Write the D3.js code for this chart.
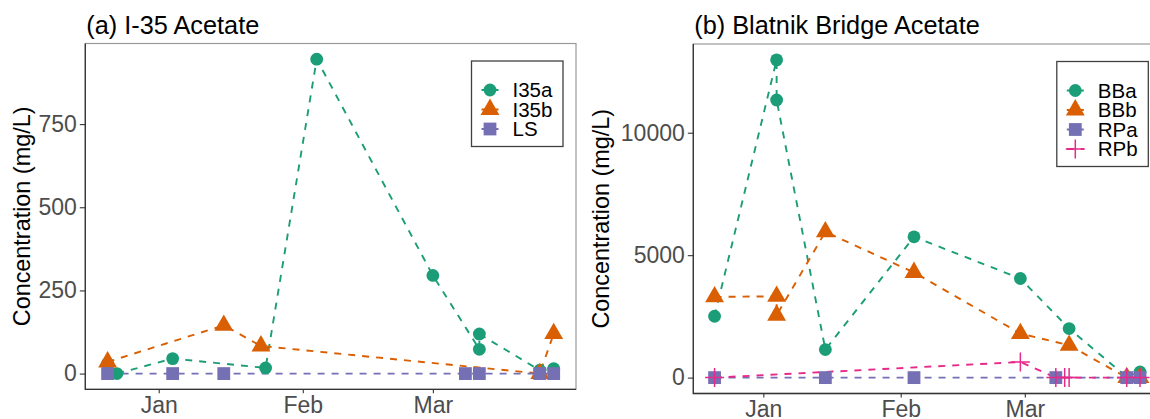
<!DOCTYPE html>
<html>
<head>
<meta charset="utf-8">
<script src="https://cdn.jsdelivr.net/npm/d3@7"></script>
<style>
  html, body { margin: 0; padding: 0; background: #fff; overflow: hidden; }
  svg { display: block; font-family: "Liberation Sans", Arial, Helvetica, sans-serif; }
</style>
</head>
<body>
<svg id="chart" width="1150" height="419"></svg>
<script>
// ---- Data: sampling dates and acetate concentrations (mg/L) ----
const i35aDates  = ["2022-12-21","2022-12-23","2023-01-04","2023-01-24","2023-02-04","2023-03-01","2023-03-11","2023-03-11","2023-03-24","2023-03-27"];
const i35aValues = [30, 0, 45, 17, 945, 295, 73, 119, 10, 15];

const i35bDates  = ["2022-12-21","2023-01-15","2023-01-23","2023-03-24","2023-03-27"];
const i35bValues = [35, 145, 83, 0, 120];

const lsDates    = ["2022-12-21","2023-01-04","2023-01-15","2023-03-08","2023-03-11","2023-03-24","2023-03-27"];
const lsValues   = [0, 0, 0, 0, 0, 0, 0];

const bbaDates   = ["2022-12-21","2023-01-04","2023-01-04","2023-01-15","2023-02-04","2023-02-28","2023-03-11","2023-03-24","2023-03-27"];
const bbaValues  = [2506, 12975, 11337, 1145, 5749, 4047, 2003, 30, 230];

const bbbDates   = ["2022-12-21","2023-01-04","2023-01-04","2023-01-15","2023-02-04","2023-02-28","2023-03-11","2023-03-24","2023-03-27"];
const bbbValues  = [3296, 3320, 2547, 5953, 4293, 1800, 1320, 0, 0];

const rpaDates   = ["2022-12-21","2023-01-15","2023-02-04","2023-03-08","2023-03-24","2023-03-27"];
const rpaValues  = [0, 0, 0, 0, 0, 0];

const rpbDates   = ["2022-12-21","2023-02-28","2023-03-08","2023-03-10","2023-03-11","2023-03-24","2023-03-27"];
const rpbValues  = [0, 638, 0, 0, 0, 0, 0];

const panelATicks = [0, 250, 500, 750];
const panelBTicks = [0, 5000, 10000];
const monthTicks  = ["2023-01-01", "2023-02-01", "2023-03-01"];

const palette = { green: "#1B9E77", orange: "#D95F02", purple: "#7570B3", pink: "#E7298A" };

// ---- Helpers ----
const parse = d3.utcParse("%Y-%m-%d");
function makeSeries(name, dates, values, color, shape) {
  return { name, color, shape, points: dates.map((d, i) => ({ date: parse(d), value: values[i] })) };
}

const panelA = [
  makeSeries("I35a", i35aDates, i35aValues, palette.green,  "circle"),
  makeSeries("I35b", i35bDates, i35bValues, palette.orange, "triangle"),
  makeSeries("LS",   lsDates,   lsValues,   palette.purple, "square")
];
const panelB = [
  makeSeries("BBa", bbaDates, bbaValues, palette.green,  "circle"),
  makeSeries("BBb", bbbDates, bbbValues, palette.orange, "triangle"),
  makeSeries("RPa", rpaDates, rpaValues, palette.purple, "square"),
  makeSeries("RPb", rpbDates, rpbValues, palette.pink,   "plus")
];

// ggplot-style 5% expansion of a continuous range
function expand(lo, hi) { const d = (hi - lo) * 0.05; return [lo - d, hi + d]; }

const allDates = panelA.concat(panelB).flatMap(s => s.points.map(p => +p.date));
const dateDomain = expand(d3.min(allDates), d3.max(allDates)).map(t => new Date(t));

const DASH = "7,7";
const LINE_W = 1.9;

function drawMarker(g, shape, cx, cy, color) {
  if (shape === "circle") {
    g.append("circle").attr("cx", cx).attr("cy", cy).attr("r", 6.4).attr("fill", color);
  } else if (shape === "triangle") {
    const R = 7.0;
    const pts = [[cx, cy - 1.5551 * R], [cx + 1.3468 * R, cy + 0.7776 * R], [cx - 1.3468 * R, cy + 0.7776 * R]];
    g.append("path").attr("d", "M" + pts.map(p => p.join(",")).join("L") + "Z").attr("fill", color);
  } else if (shape === "square") {
    const h = 6.4;
    g.append("rect").attr("x", cx - h).attr("y", cy - h).attr("width", 2 * h).attr("height", 2 * h).attr("fill", color);
  } else if (shape === "plus") {
    const h = 9.5;
    g.append("path").attr("d", `M${cx - h},${cy}H${cx + h}M${cx},${cy - h}V${cy + h}`)
      .attr("stroke", color).attr("stroke-width", 1.5).attr("fill", "none");
  }
}

const svg = d3.select("#chart");

function drawPanel(cfg) {
  const { left, right, top, bottom, series, yTicks, title, yTitleX } = cfg;
  const g = svg.append("g");

  const maxVal = d3.max(series.flatMap(s => s.points.map(p => p.value)));
  const minVal = d3.min(series.flatMap(s => s.points.map(p => p.value)));
  const x = d3.scaleUtc().domain(dateDomain).range([left, right]);
  const y = d3.scaleLinear().domain(expand(minVal, maxVal)).range([bottom, top]);

  // panel frame: light top/right, dark axis lines
  g.append("rect").attr("x", left).attr("y", top).attr("width", right - left).attr("height", bottom - top)
    .attr("fill", "none").attr("stroke", "#9a9a9a").attr("stroke-width", 1.2);
  g.append("path").attr("d", `M${left},${top}V${bottom}H${right}`)
    .attr("fill", "none").attr("stroke", "#333").attr("stroke-width", 1.3);

  // y axis
  const yAxis = g.append("g").attr("transform", `translate(${left},0)`)
    .call(d3.axisLeft(y).tickValues(yTicks).tickSize(5.5).tickPadding(3).tickFormat(d3.format("d")));
  yAxis.select(".domain").remove();
  yAxis.selectAll("line").attr("stroke", "#333").attr("stroke-width", 1.1);
  yAxis.selectAll("text").attr("fill", "#4D4D4D").style("font-size", "23px")
    .style("font-family", '"Liberation Sans", Arial, sans-serif');

  // x axis
  const xAxis = g.append("g").attr("transform", `translate(0,${bottom})`)
    .call(d3.axisBottom(x).tickValues(monthTicks.map(parse)).tickSize(4).tickPadding(3).tickFormat(d3.utcFormat("%b")));
  xAxis.select(".domain").remove();
  xAxis.selectAll("line").attr("stroke", "#333").attr("stroke-width", 1.1);
  xAxis.selectAll("text").attr("fill", "#4D4D4D").style("font-size", "23px")
    .style("font-family", '"Liberation Sans", Arial, sans-serif');

  // titles
  g.append("text").attr("x", left + 1).attr("y", 33.5).attr("fill", "#000")
    .style("font-size", "25.3px").text(title);
  g.append("text").attr("transform", `translate(${yTitleX},${(top + bottom) / 2}) rotate(-90)`)
    .attr("text-anchor", "middle").attr("fill", "#000").style("font-size", "23.4px")
    .text("Concentration (mg/L)");

  // data: dashed lines, then markers
  const clip = "clip-" + cfg.id;
  svg.append("clipPath").attr("id", clip).append("rect")
    .attr("x", left).attr("y", top).attr("width", right - left).attr("height", bottom - top);
  const plot = g.append("g").attr("clip-path", `url(#${clip})`);
  const line = d3.line().x(d => x(d.date)).y(d => y(d.value));
  series.forEach(s => {
    plot.append("path").datum(s.points).attr("d", line).attr("fill", "none")
      .attr("stroke", s.color).attr("stroke-width", LINE_W).attr("stroke-dasharray", DASH);
  });
  series.forEach(s => {
    s.points.forEach(p => drawMarker(plot, s.shape, x(p.date), y(p.value), s.color));
  });

  // legend
  const boxW = 91.5, rowH = 19.5;
  const boxL = right - 13 - boxW, boxT = top + 17.5;
  const firstRow = boxT + 29;
  const boxH = 29 + rowH * (series.length - 1) + 17.5;
  const lg = g.append("g");
  lg.append("rect").attr("x", boxL).attr("y", boxT).attr("width", boxW).attr("height", boxH)
    .attr("fill", "#fff").attr("stroke", "#404040").attr("stroke-width", 1.3);
  series.forEach((s, i) => {
    const cy = firstRow + i * rowH, cx = boxL + 18.5;
    lg.append("path").attr("d", `M${cx - 8.5},${cy}H${cx + 8.5}`).attr("stroke", s.color)
      .attr("stroke-width", LINE_W).attr("stroke-dasharray", DASH);
    drawMarker(lg, s.shape, cx, cy, s.color);
    lg.append("text").attr("x", boxL + 41).attr("y", cy).attr("dy", "0.36em").attr("fill", "#000")
      .style("font-size", "20.5px").text(s.name);
  });
}

drawPanel({ id: "a", left: 85.3, right: 576, top: 43.5, bottom: 389.3, series: panelA,
            yTicks: panelATicks, title: "(a) I-35 Acetate", yTitleX: 29.5 });
drawPanel({ id: "b", left: 693.3, right: 1161.3, top: 44, bottom: 393.5, series: panelB,
            yTicks: panelBTicks, title: "(b) Blatnik Bridge Acetate", yTitleX: 608.5 });
</script>
</body>
</html>
